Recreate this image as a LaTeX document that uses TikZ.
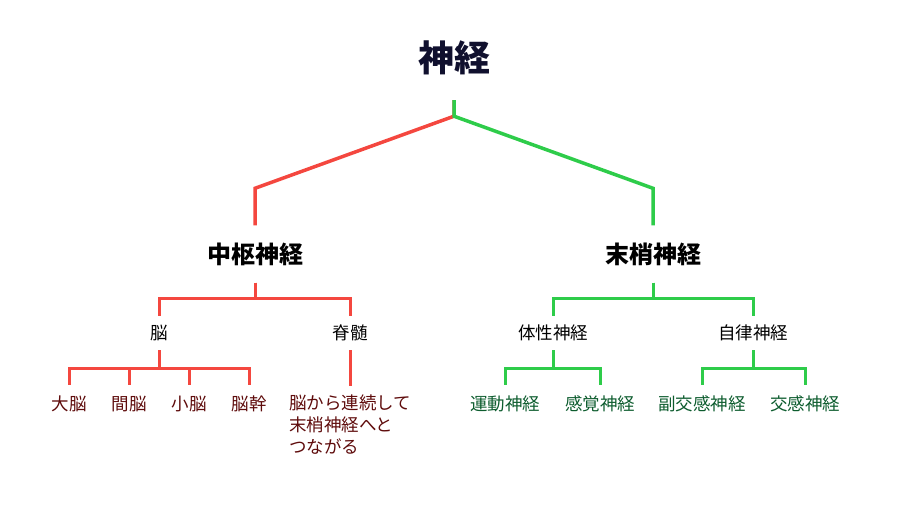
\documentclass[tikz,border=0pt]{standalone}
\usepackage{fontspec}
\setmainfont{Noto Sans CJK JP}
\usepackage{xcolor}
\usepackage{tikz}
\usetikzlibrary{arrows.meta,positioning,calc}
\definecolor{cnsred}{HTML}{F4473F}
\definecolor{pnsgreen}{HTML}{2ECC4A}
\definecolor{leafred}{HTML}{5E0B0B}
\definecolor{leafgreen}{HTML}{0D5C2E}
\definecolor{topnavy}{HTML}{10102E}

\begin{document}
\begin{tikzpicture}[x=1pt,y=-1pt,
  toplabel/.style={inner sep=0pt,minimum height=84pt,font=\fontsize{36}{40}\selectfont\bfseries,text=topnavy},
  midlabel/.style={inner sep=0pt,minimum height=57pt,font=\fontsize{24}{28}\selectfont\bfseries},
  sublabel/.style={inner sep=0pt,minimum height=34pt,font=\fontsize{17.5}{22}\selectfont},
  leaflabel/.style={inner sep=0pt,minimum height=38pt,font=\fontsize{17.5}{22}\selectfont},
  redline/.style={draw=cnsred,line width=3pt},
  greenline/.style={draw=pnsgreen,line width=3pt}]
\useasboundingbox (0,0) rectangle (899,513);

\node[toplabel] (shinkei) at (454,58) {神経};
\node[midlabel] (chusu) at (255,254) {中枢神経};
\node[midlabel] (masho) at (653,254) {末梢神経};

\node[sublabel] (noh) at (159,333) {脳};
\node[sublabel] (sekizui) at (350,333) {脊髄};
\node[sublabel] (taisei) at (553,333) {体性神経};
\node[sublabel] (jiritsu) at (753,333) {自律神経};

\node[leaflabel,text=leafred] (daino) at (69,404) {大脳};
\node[leaflabel,text=leafred] (kanno) at (129,404) {間脳};
\node[leaflabel,text=leafred] (shono) at (189,404) {小脳};
\node[leaflabel,text=leafred] (noukan) at (249,404) {脳幹};
\node[leaflabel,text=leafred,minimum height=0pt,inner ysep=9pt,anchor=north,
  align=left,text width=122pt] (sekinote) at (350,386)
  {脳から連続して\\末梢神経へと\\つながる};

\node[leaflabel,text=leafgreen] (undo) at (505,404) {運動神経};
\node[leaflabel,text=leafgreen] (kankaku) at (600,404) {感覚神経};
\node[leaflabel,text=leafgreen] (fukuko) at (702,404) {副交感神経};
\node[leaflabel,text=leafgreen] (kokan) at (805,404) {交感神経};

\draw[redline,line width=3.5pt] (shinkei.south) -- ++(0,16) -- ([yshift=37pt]chusu.north) -- (chusu.north);
\draw[greenline,line width=3.5pt] (shinkei.south) -- ++(0,16) -- ([yshift=37pt]masho.north) -- (masho.north);

\foreach \c in {noh,sekizui}
  \draw[redline] (chusu.south) -- ++(0,16) -| (\c.north);
\foreach \c in {daino,kanno,shono,noukan}
  \draw[redline] (noh.south) -- ++(0,18) -| (\c.north);
\draw[redline] (sekizui.south) -- (sekinote.north);

\foreach \c in {taisei,jiritsu}
  \draw[greenline] (masho.south) -- ++(0,16) -| (\c.north);
\foreach \c in {undo,kankaku}
  \draw[greenline] (taisei.south) -- ++(0,18) -| (\c.north);
\foreach \c in {fukuko,kokan}
  \draw[greenline] (jiritsu.south) -- ++(0,18) -| (\c.north);
\end{tikzpicture}
\end{document}
